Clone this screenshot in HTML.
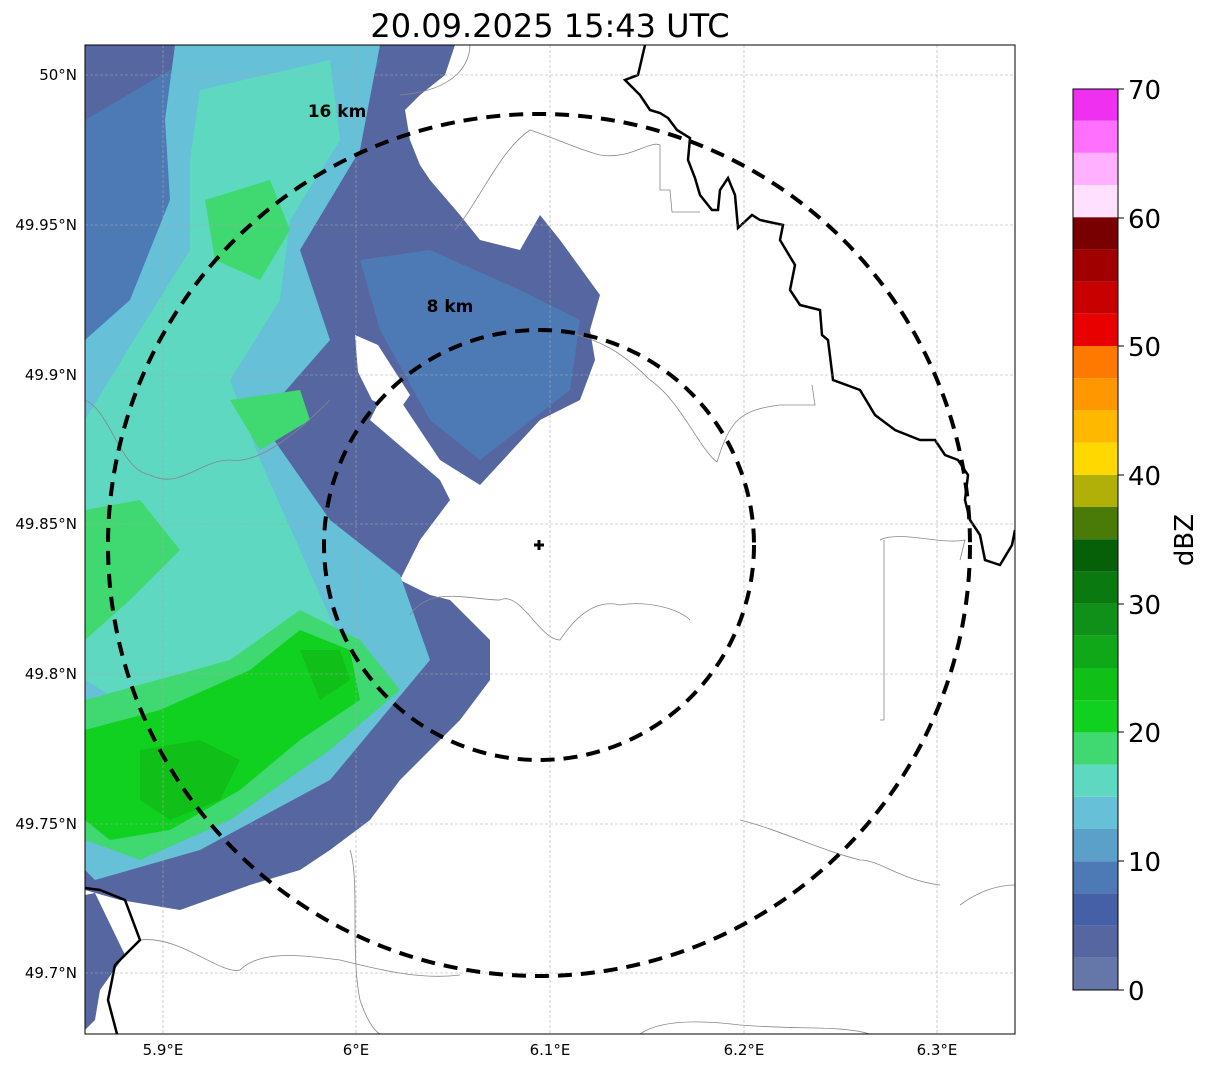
<!DOCTYPE html>
<html><head><meta charset="utf-8"><style>
body{margin:0;background:#fff;width:1207px;height:1069px;overflow:hidden;font-family:"DejaVu Sans","Liberation Sans",sans-serif}
</style></head><body>
<svg width="1207" height="1069" xmlns="http://www.w3.org/2000/svg" font-family="DejaVu Sans, Liberation Sans, sans-serif">
<defs><clipPath id="c"><rect x="85" y="45" width="930" height="989"/></clipPath></defs>
<text x="550" y="37" font-size="32" text-anchor="middle">20.09.2025 15:43 UTC</text>
<g clip-path="url(#c)">
<polygon fill="#5566a0" points="85,45 455,45 445,75 420,95 405,110 410,140 420,165 430,180 460,215 480,240 520,250 540,215 560,240 600,295 590,330 595,360 580,400 540,420 480,485 440,460 400,400 380,400 370,420 440,480 450,500 420,540 410,560 400,580 430,595 450,600 490,640 490,680 460,720 430,750 400,780 370,820 330,850 300,870 250,885 180,910 120,900 85,890"/>
<polygon fill="#5566a0" points="85,895 95,893 125,955 100,990 95,1020 85,1030"/>
<polygon fill="#4d7ab5" points="360,260 430,250 520,290 580,320 570,390 480,460 430,420 380,330"/>
<polygon fill="#4d7ab5" points="85,120 170,70 300,50 380,60 330,180 250,280 150,330 85,350"/>
<polygon fill="#66c0d8" points="175,45 380,45 360,150 300,250 330,340 260,420 330,520 400,575 430,660 330,780 200,850 95,880 85,870 85,340 130,300 170,200 165,120"/>
<polygon fill="#5ed8c0" points="200,90 330,60 340,140 290,220 280,300 230,380 260,460 300,550 340,640 260,700 150,720 85,680 85,420 140,330 190,250 190,160"/>
<polygon fill="#40d870" points="205,200 270,180 290,230 260,280 215,260"/>
<polygon fill="#40d870" points="230,400 300,390 310,420 260,450"/>
<polygon fill="#40d870" points="85,510 140,500 180,550 130,600 85,640"/>
<polygon fill="#40d870" points="85,700 230,660 300,610 360,640 400,690 330,750 230,820 140,860 85,840"/>
<polygon fill="#10d020" points="85,730 160,710 250,670 300,630 350,650 360,700 300,740 240,790 170,830 110,840 85,820"/>
<polygon fill="#10c018" points="140,750 200,740 240,760 220,800 170,820 140,800"/>
<polygon fill="#10c018" points="300,650 340,650 350,680 320,700"/>
<polygon fill="#ffffff" points="355,335 378,345 410,395 398,412 372,400 358,372"/>
<g fill="none" stroke="#888" stroke-width="0.8">
<path d="M400,95 C460,90 470,60 470,45"/>
<path d="M455,230 C480,200 500,150 530,130 C560,140 580,150 600,155 C630,160 650,140 660,145 L660,190 L670,190 L672,212 L700,212"/>
<path d="M560,330 C600,340 620,350 650,380 C680,400 700,450 717,462 C730,420 740,410 780,405 L815,405 L812,385"/>
<path d="M85,400 C110,410 120,470 150,475 C180,490 200,460 230,460 C260,465 300,430 330,400"/>
<path d="M410,615 C430,585 470,600 500,600 C520,590 540,640 560,640 C580,610 600,600 620,605 C650,600 680,610 690,620"/>
<path d="M884,540 L884,720 L880,720"/>
<path d="M880,540 C900,530 940,545 965,540 L960,560"/>
<path d="M960,905 C980,890 1000,885 1015,885"/>
<path d="M740,820 C780,830 820,850 860,860 C880,860 900,880 940,885"/>
<path d="M140,940 C180,935 220,975 240,970 C260,950 300,955 340,960 C380,970 420,980 460,975"/>
<path d="M640,1034 C660,1020 700,1020 740,1025 C800,1030 840,1025 870,1034"/>
<path d="M350,850 C360,880 350,950 360,1000 C370,1030 380,1034 380,1034"/>
</g>
<path fill="none" stroke="#000" stroke-width="2.5" d="M645,45 L638,75 L625,80 L640,95 L650,110 L660,113 L668,118 L677,130 L690,138 L688,160 L695,178 L700,195 L712,210 L718,210 L720,190 L728,178 L735,195 L738,228 L752,215 L760,220 L783,225 L780,240 L795,265 L790,290 L800,305 L820,310 L822,335 L828,340 L833,380 L860,390 L875,415 L895,430 L920,440 L935,440 L945,455 L958,460 L968,475 L965,500 L970,520 L980,535 L985,560 L1000,565 L1012,545 L1015,530"/>
<path fill="none" stroke="#000" stroke-width="2.5" d="M85,888 L100,890 L125,900 L140,940 L115,965 L108,1000 L117,1034"/>
<g stroke="#aaa" stroke-width="0.6" stroke-dasharray="3,2">
<line x1="163" y1="45" x2="163" y2="1034"/><line x1="356" y1="45" x2="356" y2="1034"/><line x1="550" y1="45" x2="550" y2="1034"/><line x1="744" y1="45" x2="744" y2="1034"/><line x1="937" y1="45" x2="937" y2="1034"/>
<line x1="85" y1="75" x2="1015" y2="75"/><line x1="85" y1="225" x2="1015" y2="225"/><line x1="85" y1="375" x2="1015" y2="375"/><line x1="85" y1="524" x2="1015" y2="524"/><line x1="85" y1="674" x2="1015" y2="674"/><line x1="85" y1="824" x2="1015" y2="824"/><line x1="85" y1="973" x2="1015" y2="973"/>
</g>
<circle cx="539" cy="545" r="215" fill="none" stroke="#000" stroke-width="4" stroke-dasharray="14,9"/>
<circle cx="539" cy="545" r="431" fill="none" stroke="#000" stroke-width="4" stroke-dasharray="14,9"/>
<text x="337" y="117" font-size="17" font-weight="bold" text-anchor="middle">16 km</text>
<text x="450" y="312" font-size="17" font-weight="bold" text-anchor="middle">8 km</text>
<path d="M539,540 V550 M534,545 H544" stroke="#000" stroke-width="3"/>
</g>
<rect x="85" y="45" width="930" height="989" fill="none" stroke="#000" stroke-width="1"/>
<g font-size="15" text-anchor="end">
<text x="77" y="80">50°N</text><text x="77" y="230">49.95°N</text><text x="77" y="380">49.9°N</text><text x="77" y="529">49.85°N</text><text x="77" y="679">49.8°N</text><text x="77" y="829">49.75°N</text><text x="77" y="978">49.7°N</text>
</g>
<g font-size="15" text-anchor="middle">
<text x="163" y="1055">5.9°E</text><text x="356" y="1055">6°E</text><text x="550" y="1055">6.1°E</text><text x="744" y="1055">6.2°E</text><text x="937" y="1055">6.3°E</text>
</g>
<g>
<rect x="1073" y="957.8" width="45" height="32.2" fill="#6577a8"/>
<rect x="1073" y="925.6" width="45" height="32.2" fill="#5566a0"/>
<rect x="1073" y="893.4" width="45" height="32.2" fill="#4660a8"/>
<rect x="1073" y="861.2" width="45" height="32.2" fill="#4d7ab5"/>
<rect x="1073" y="829" width="45" height="32.2" fill="#5aa0c8"/>
<rect x="1073" y="796.8" width="45" height="32.2" fill="#66c0d8"/>
<rect x="1073" y="764.6" width="45" height="32.2" fill="#5ed8c0"/>
<rect x="1073" y="732.4" width="45" height="32.2" fill="#40d870"/>
<rect x="1073" y="700.2" width="45" height="32.2" fill="#10d020"/>
<rect x="1073" y="668" width="45" height="32.2" fill="#10c018"/>
<rect x="1073" y="635.8" width="45" height="32.2" fill="#10a818"/>
<rect x="1073" y="603.6" width="45" height="32.2" fill="#109018"/>
<rect x="1073" y="571.4" width="45" height="32.2" fill="#0a7a10"/>
<rect x="1073" y="539.2" width="45" height="32.2" fill="#066008"/>
<rect x="1073" y="507" width="45" height="32.2" fill="#4a7a08"/>
<rect x="1073" y="474.8" width="45" height="32.2" fill="#b0b008"/>
<rect x="1073" y="442.6" width="45" height="32.2" fill="#ffd800"/>
<rect x="1073" y="410.4" width="45" height="32.2" fill="#ffb800"/>
<rect x="1073" y="378.2" width="45" height="32.2" fill="#ff9800"/>
<rect x="1073" y="346" width="45" height="32.2" fill="#ff7800"/>
<rect x="1073" y="313.8" width="45" height="32.2" fill="#e80000"/>
<rect x="1073" y="281.6" width="45" height="32.2" fill="#c80000"/>
<rect x="1073" y="249.4" width="45" height="32.2" fill="#a00000"/>
<rect x="1073" y="217.2" width="45" height="32.2" fill="#780000"/>
<rect x="1073" y="185" width="45" height="32.2" fill="#ffe0ff"/>
<rect x="1073" y="152.8" width="45" height="32.2" fill="#ffb0ff"/>
<rect x="1073" y="120.6" width="45" height="32.2" fill="#ff70ff"/>
<rect x="1073" y="89" width="45" height="31.6" fill="#f030f0"/>
<rect x="1073" y="89" width="45" height="901" fill="none" stroke="#000" stroke-width="1"/>
</g>
<g font-size="26">
<text x="1128" y="1000">0</text><text x="1128" y="871">10</text><text x="1128" y="742">20</text><text x="1128" y="614">30</text><text x="1128" y="485">40</text><text x="1128" y="356">50</text><text x="1128" y="228">60</text><text x="1128" y="99">70</text>
</g>
<g stroke="#000"><line x1="1118" y1="990" x2="1124" y2="990"/><line x1="1118" y1="861" x2="1124" y2="861"/><line x1="1118" y1="732" x2="1124" y2="732"/><line x1="1118" y1="604" x2="1124" y2="604"/><line x1="1118" y1="475" x2="1124" y2="475"/><line x1="1118" y1="346" x2="1124" y2="346"/><line x1="1118" y1="218" x2="1124" y2="218"/><line x1="1118" y1="89" x2="1124" y2="89"/></g>
<text x="1193" y="540" font-size="26" text-anchor="middle" transform="rotate(-90 1193 540)">dBZ</text>
</svg>
</body></html>
